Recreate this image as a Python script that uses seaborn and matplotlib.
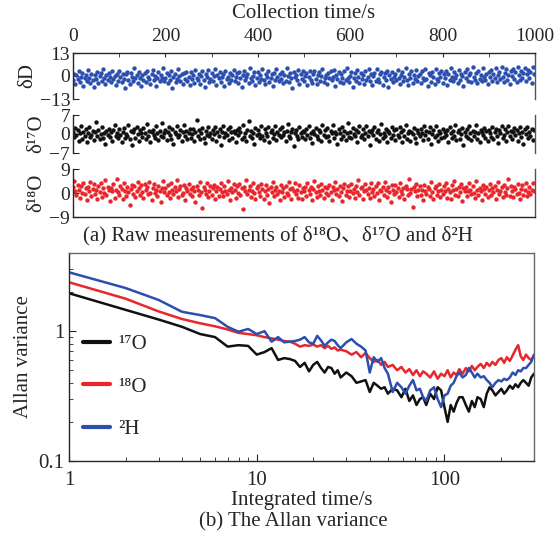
import numpy as np
import pandas as pd
import matplotlib
matplotlib.use('Agg')
import matplotlib.pyplot as plt
import seaborn as sns
from matplotlib.lines import Line2D
from matplotlib.ticker import FixedLocator, FixedFormatter, LogLocator, NullFormatter, MultipleLocator

# ---------------- (a) raw measurements, one point every 2.5 s ----------------
dD = [-2.1, 1.3, -4.5, 0.6, -1.8, 2.9, -3.2, -0.4, 1.8, -5.6, -1.1, 0.3, -2.7, 3.4, -0.9, -4.1, 1.1, -2.3, -6.2, 0.8,
      -1.5, 2.4, -3.8, -0.2, 1.6, -2.9, 4.1, -1.2, -4.8, 0.5, -2.4, 1.9, -0.7, -3.5, 2.7, -1.9, 0.2, -5.1, 1.4, -2.6,
      3.1, -0.6, -3.3, 1.0, -1.7, -6.8, 0.9, 2.2, -2.0, -4.3, 1.7, -0.8, -2.9, 4.6, -1.4, 0.4, -3.9, 2.5, -1.0, -5.4,
      0.7, -2.2, 1.5, -3.6, 2.8, -0.3, -1.6, -4.7, 1.2, 3.5, -2.5, 0.1, -5.9, -1.3, 2.0, -3.1, 0.6, -0.9, 4.4, -2.8,
      -1.2, 1.8, -4.0, 0.3, -2.3, 2.6, -6.5, -0.5, 1.3, -3.4, -1.8, 3.8, -0.1, -2.6, 0.9, -4.6, 1.6, -1.5, 2.3, -3.0,
      -0.4, -5.2, 2.1, -1.9, 0.5, -3.7, 3.2, -1.1, -2.4, 1.4, -4.4, 0.0, 2.7, -2.0, -6.0, 1.0, -0.7, 3.6, -3.3, -1.6,
      1.9, -2.7, -0.2, 4.0, -4.9, 0.8, -1.4, 2.4, -3.5, -0.6, 1.1, -5.7, 2.9, -1.7, -0.3, -3.8, 1.5, -2.1, 0.4, 3.3,
      -2.9, -0.8, 1.7, -4.2, 2.2, -1.0, -6.3, 0.7, 3.0, -2.3, -0.5, 1.2, -3.9, 4.3, -1.3, -2.6, 0.2, 2.0, -5.0, -0.9,
      2.5, -3.2, 0.6, -1.8, 3.7, -2.2, -4.5, 1.3, -0.4, 2.8, -3.6, -1.1, 0.9, -5.5, 1.8, -2.5, 3.9, -0.7, -3.0, 1.0,
      -1.6, 2.3, -4.1, 0.4, -2.8, 4.7, -0.2, -3.4, 1.6, -1.3, -6.6, 2.1, -0.8, 0.3, -2.1, 3.4, -4.7, 1.1, -1.9, 2.6,
      -3.1, 0.1, 1.9, -5.3, -0.6, 2.8, -2.0, -3.7, 1.4, 3.1, -1.5, -4.3, 0.5, 2.0, -2.7, -0.2, 4.2, -3.2, -1.0, 0.8,
      -4.8, 1.7, -1.2, 2.9, -2.4, -0.5, 3.5, -5.8, 0.6, -1.7, 2.2, -3.3, 1.0, -0.9, -4.0, 2.6, -2.2, 4.5, -1.4, -3.5,
      0.2, 2.4, -6.1, -1.1, 1.5, -2.9, 3.3, -0.3, -3.9, 1.9, -1.6, 0.7, -4.6, 2.7, -2.3, -0.7, 3.8, -3.0, 1.2, -5.0,
      -0.1, 1.6, -2.6, 4.1, -1.8, -3.4, 0.9, 2.3, -4.9, -0.4, 1.8, -2.1, 3.0, -6.4, 0.3, -1.5, 2.5, -3.6, -0.8, 1.4,
      -2.5, 3.6, -1.0, -4.4, 0.8, 2.1, -3.1, -0.6, 4.8, -2.2, -5.3, 1.3, -1.2, 2.9, -3.8, 0.4, -1.9, 3.2, -2.8, 0.0,
      1.1, -4.2, 2.6, -0.9, -2.4, 3.7, -1.5, -5.6, 1.7, 0.5, -3.2, 2.3, -0.3, -4.5, 4.0, -1.7, -2.6, 1.5, -0.5, 3.1,
      -3.7, 0.9, -1.3, 2.7, -5.0, 1.2, -2.0, 4.4, -0.8, -3.1, 2.0, -1.4, 0.6, -4.2, 3.5, -2.4, 1.3, -0.2, -5.9, 2.4,
      -1.1, 3.8, -2.9, 0.3, 1.9, -3.5, 5.1, -0.7, -2.2, 1.6, -4.0, 2.8, -1.6, 0.7, -3.0, 4.3, -0.4, -2.5, 1.0, -4.6,
      2.2, -0.6, 3.4, -2.7, 1.4, -1.2, 4.6, -3.3, 0.8, 2.5, -1.9, 5.0, -0.3, -3.6, 1.8, 3.9, -2.1, 0.5, -4.3, 2.7,
      0.1, 4.2, -1.8, 2.0, -3.2, 5.3, 0.6, -2.4, 3.1, -0.9, 1.5, 4.7, -2.8, 0.9, 3.6, -1.3, 2.4, -3.7, 4.9, 1.2]

d17O = [0.8, -1.2, 2.1, -0.4, 1.5, -2.6, 0.3, 3.0, -1.7, 0.9, -0.6, 1.8, -3.1, 0.2, 2.4, -1.0, -0.2, 1.2, -2.2, 0.6,
        4.6, -0.8, 1.4, -1.9, 0.0, 2.7, -1.4, 0.5, -3.5, 1.1, -0.5, 2.0, -1.1, 0.7, -2.4, 1.6, 3.4, -0.9, 0.4, -1.6,
        1.9, -0.3, -2.8, 0.9, 2.3, -1.3, 0.1, -0.7, 3.2, -2.0, 1.0, -4.2, 0.6, 1.7, -1.5, 2.6, -0.1, -2.5, 1.3, 0.2,
        -1.0, 2.2, 0.4, -1.8, 3.6, -0.6, 1.1, -2.9, 0.8, 1.5, -0.4, -1.4, 2.8, 0.3, -2.1, 1.2, -0.9, 3.9, -1.2, 0.5,
        1.6, -2.3, 0.7, 2.5, -0.2, -1.7, 1.9, -3.8, 0.9, 0.1, 2.9, -1.1, -0.5, 1.4, -2.6, 0.6, 3.3, -0.8, 1.0, -1.9,
        0.2, 2.0, -1.5, -0.1, 1.7, -2.7, 0.8, 5.2, -0.6, 1.3, -2.0, 0.4, 2.3, -1.3, -3.3, 1.1, -0.3, 2.7, -0.9, 0.5,
        -1.7, 1.5, 0.0, 2.6, -2.4, 0.7, -0.7, 1.9, -4.0, 0.9, 3.1, -1.2, 0.3, -0.4, 1.8, -2.2, 2.4, 0.6, -1.6, 1.2,
        0.4, -2.9, 1.6, -0.5, 2.1, 0.8, -1.8, 3.5, -1.0, 0.2, -2.5, 1.4, 4.9, -0.7, 1.0, -1.4, 0.5, -3.6, 2.2, -0.2,
        1.3, 0.1, -1.3, 2.8, -0.8, -2.1, 1.7, 0.4, -0.9, 2.4, -3.0, 0.9, 1.5, -1.6, 0.0, 3.0, -2.3, 0.7, -0.4, 1.9,
        -1.1, 2.5, -0.3, 0.6, -2.6, 1.2, 3.7, -0.6, -1.5, 0.8, 2.0, -4.4, 0.3, 1.6, -0.8, -1.9, 2.7, 0.5, -1.2, 1.0,
        0.7, -2.0, 1.8, -0.2, 2.9, -1.4, 0.4, -3.2, 1.1, 0.0, 2.3, -0.9, -1.7, 1.5, 0.6, -2.7, 3.2, -0.5, 1.3, -1.0,
        2.1, -0.7, -2.4, 1.0, 0.3, 3.4, -1.3, 0.8, -0.1, -3.5, 1.9, 0.5, -1.8, 2.6, -0.6, 1.2, -2.2, 0.2, 4.1, -1.1,
        0.9, -1.6, 2.2, 0.1, -0.8, 1.4, -2.9, 0.6, 2.8, -1.2, -0.3, 1.7, -2.0, 0.4, 3.1, -0.9, 1.1, -3.9, 0.7, 1.6,
        -0.5, 2.4, -1.9, 0.8, 1.3, -2.5, 0.0, 3.6, -1.4, 0.5, -0.7, 2.0, -3.1, 1.0, 0.2, -1.5, 2.7, -0.4, 1.5, -2.1,
        1.8, -0.2, -1.0, 2.5, 0.6, -2.8, 1.4, -0.6, 3.3, -1.7, 0.3, 1.1, -2.4, 0.9, -0.1, 2.2, -1.3, -3.4, 1.6, 0.4,
        -0.9, 1.7, 0.2, -2.2, 2.9, -0.5, 1.0, -1.8, 0.7, 2.4, -3.7, 0.1, 1.5, -1.1, 3.0, -0.3, -2.6, 1.2, 0.5, -1.4,
        2.0, -1.2, 0.8, -0.4, 1.6, -3.0, 2.6, 0.3, -1.6, 1.1, -0.8, 3.5, -2.1, 0.6, 1.4, -1.9, 0.0, 2.3, -4.1, 0.9,
        -0.6, 1.9, -1.5, 2.8, 0.4, -2.3, 1.2, -0.9, 0.7, 3.2, -1.8, 0.2, -2.9, 1.6, 0.8, -0.5, 2.1, -1.3, 1.0, -2.5,
        1.4, 0.3, -1.1, 2.5, -2.0, 0.9, 1.8, -0.7, -3.3, 1.3, 0.5, 2.9, -1.4, -0.2, 1.7, -2.4, 0.6, 3.1, -0.8, 1.1,
        -1.7, 0.7, 2.2, -0.3, 1.5, -2.6, 0.4, 2.6, -1.0, 0.9, -3.5, 1.8, 0.1, 2.4, -1.5, 0.8, -0.6, 2.0, -2.2, 1.3]

d18O = [2.3, 4.5, 0.6, -0.8, 3.1, 1.2, -1.9, 2.7, 0.1, 3.9, -0.4, 1.8, -2.6, 2.2, 0.9, 4.1, -1.2, 1.5, 3.3, -0.3,
        1.0, -2.2, 2.8, 0.4, 3.6, -1.5, 1.9, 0.0, 4.8, -0.9, 2.4, 1.1, -3.0, 2.0, 0.7, 3.4, -1.7, 1.3, 5.2, 0.2,
        -0.6, 2.6, 1.4, -2.4, 3.8, 0.8, -1.0, 2.1, 0.3, -4.6, 1.6, 3.0, -0.2, 2.5, -1.4, 0.9, 4.3, 1.7, -0.7, 2.9,
        0.5, -1.8, 3.2, 1.0, 2.3, -0.5, 4.0, 0.1, -2.8, 1.9, 3.5, -0.1, 1.2, -1.3, 2.7, 0.6, -3.4, 2.0, 4.6, 0.4,
        1.7, -0.9, 2.9, 0.2, -2.0, 3.7, 1.1, -0.4, 2.2, 0.8, 5.0, -1.6, 1.4, 2.6, -0.8, 0.0, 3.1, -2.7, 1.8, 0.9,
        3.4, -0.3, 1.5, -1.1, 2.4, 0.7, -3.2, 2.8, 1.3, -0.6, 4.2, 0.5, -5.8, 2.1, 1.0, -0.2, 3.6, -1.4, 0.8, 2.5,
        -0.7, 1.9, 3.0, -2.3, 0.6, 2.2, -1.1, 1.6, 3.9, 0.3, -1.2, 2.7, 0.9, -0.5, 4.4, 1.2, -2.5, 2.0, 0.4, 3.2,
        1.1, -1.7, 2.5, 0.0, 3.3, -0.8, 1.7, -5.9, 2.3, 0.6, 4.9, -0.4, 1.0, 2.6, -1.5, 0.8, 3.7, -0.1, -2.1, 1.9,
        2.8, 0.2, -1.0, 3.5, 1.4, -2.2, 0.7, 2.9, -0.6, 1.6, -3.7, 2.2, 0.5, 4.0, -1.3, 1.2, 2.4, -0.2, 0.9, -2.6,
        3.1, 0.4, 1.8, -1.6, 2.6, 0.1, -0.9, 4.3, 1.5, -2.4, 2.0, 0.8, 3.6, -0.5, 1.3, -1.8, 2.9, 0.3, -2.4, 1.7,
        0.6, 2.4, -1.1, 3.8, 1.0, -0.3, 2.1, -2.7, 1.5, 4.6, 0.2, -1.4, 2.8, 0.7, -0.7, 3.3, 1.2, -2.0, 2.3, 0.0,
        1.9, -0.8, 3.0, 0.5, -2.5, 2.2, 1.1, 4.1, -0.4, 1.6, -1.2, 2.7, 0.3, -3.1, 1.8, 3.5, -0.6, 0.9, 2.5, -1.5,
        0.8, 3.2, -0.1, 1.4, -1.9, 2.6, 0.4, 4.7, -0.9, 1.7, 2.3, -2.3, 0.6, 3.4, 1.0, -0.5, 2.0, -1.7, 3.9, 0.2,
        1.5, -1.0, 2.8, 0.0, 3.6, -2.6, 1.2, 0.7, 2.4, -0.7, 4.2, 1.3, -1.6, 2.1, 0.4, -3.3, 2.9, 1.1, -0.3, 3.0,
        0.3, 2.0, -1.4, 3.7, 0.9, -0.4, 1.8, -2.1, 2.6, 1.4, -0.9, 5.1, 0.1, 1.6, -5.4, 2.3, 0.6, 3.5, -1.1, 1.0,
        2.7, -0.6, 1.3, -2.8, 3.1, 0.8, -0.2, 2.2, 1.5, -1.3, 4.0, 0.4, -2.2, 1.9, 2.8, -0.8, 0.7, 3.3, -1.5, 1.2,
        -0.4, 2.5, 0.9, 3.9, -1.7, 1.6, 0.2, -2.4, 2.9, 1.0, 4.4, -0.7, 1.4, -1.0, 2.1, 0.5, 3.2, -2.9, 1.8, 0.6,
        2.3, -1.2, 0.8, 3.6, 1.3, -0.5, 2.6, 0.0, -1.9, 4.5, 1.1, -0.8, 2.0, 0.7, -2.6, 3.0, 1.5, -0.2, 2.4, -1.4,
        1.0, 3.4, -0.9, 1.7, 0.3, 2.8, -2.1, 1.2, 4.2, -0.4, 0.9, 2.2, -1.6, 3.1, 0.5, -0.6, 1.9, 5.3, -1.0, 2.6,
        0.7, -1.5, 2.4, 1.4, -0.3, 3.3, 0.1, -2.3, 1.6, 2.9, -0.7, 1.1, 3.8, -1.2, 0.4, 2.1, -0.5, 1.3, 3.6, 0.8]

# ---------------- (b) Allan variance ----------------
tau = [1, 2, 3, 4, 5, 6, 7, 8, 9, 10, 11, 12, 13, 14, 15, 16, 17, 18, 19,
       20, 21, 22, 23, 24, 25, 26, 27, 28,
       30, 32, 34, 36, 38, 40, 42, 44, 46, 48, 50,
       53, 56, 59, 62, 65, 68, 71, 74, 77, 80,
       84, 88, 92, 96, 100, 104, 108, 112, 116, 120,
       125, 130, 135, 140, 145, 150,
       156, 162, 168, 174, 180,
       187, 194, 201, 208, 215,
       223, 231, 239, 247, 255, 263,
       272, 281, 290, 300]

allan_17O = [1.96, 1.46, 1.23, 1.08, 0.95, 0.90, 0.76, 0.78, 0.77, 0.66, 0.69, 0.74, 0.60, 0.62, 0.61, 0.59, 0.53, 0.57, 0.49,
             0.55, 0.58, 0.52, 0.48, 0.53, 0.52, 0.47, 0.50, 0.44,
             0.48, 0.45, 0.40, 0.41, 0.42, 0.34, 0.40, 0.38, 0.36, 0.37, 0.33,
             0.36, 0.35, 0.31, 0.36, 0.29, 0.32, 0.27, 0.30, 0.31, 0.27,
             0.33, 0.30, 0.37, 0.35, 0.26, 0.20, 0.27, 0.24, 0.28, 0.31,
             0.31, 0.27, 0.24, 0.29, 0.26, 0.31,
             0.30, 0.26, 0.33, 0.37, 0.35,
             0.32, 0.34, 0.36, 0.33, 0.35,
             0.38, 0.36, 0.39, 0.37, 0.40, 0.42,
             0.40, 0.38, 0.44, 0.47]

allan_18O = [2.38, 1.78, 1.42, 1.24, 1.15, 1.09, 1.03, 0.97, 0.95, 0.93, 0.90, 0.88, 0.86, 0.84, 0.83, 0.80, 0.76, 0.78, 0.77,
             0.79, 0.76, 0.78, 0.74, 0.77, 0.73, 0.75, 0.71, 0.72,
             0.70, 0.66, 0.69, 0.63, 0.68, 0.62, 0.58, 0.60, 0.55, 0.58, 0.53,
             0.55, 0.50, 0.53, 0.48, 0.51, 0.46, 0.50, 0.45, 0.49, 0.47,
             0.44, 0.49, 0.43, 0.47, 0.45, 0.50, 0.44, 0.48, 0.46, 0.51,
             0.47, 0.52, 0.49, 0.54, 0.50, 0.53,
             0.56, 0.52, 0.57, 0.54, 0.58,
             0.55, 0.60, 0.62, 0.57, 0.63,
             0.59, 0.65, 0.72, 0.78, 0.64, 0.60,
             0.66, 0.62, 0.60, 0.65]

allan_2H = [2.84, 2.15, 1.74, 1.41, 1.33, 1.26, 1.08, 0.99, 1.04, 0.95, 1.00, 0.83, 0.90, 0.82, 0.83, 0.84, 0.86, 0.90, 0.82,
            0.80, 0.92, 0.85, 0.77, 0.82, 0.86, 0.84, 0.78, 0.74,
            0.82, 0.87, 0.80, 0.76, 0.71, 0.48, 0.63, 0.58, 0.62, 0.52, 0.47,
            0.34, 0.40, 0.37, 0.33, 0.38, 0.42, 0.35, 0.36, 0.31, 0.29,
            0.35, 0.37, 0.30, 0.26, 0.32, 0.33, 0.38, 0.40, 0.45, 0.48,
            0.44, 0.46, 0.52, 0.48, 0.44, 0.47,
            0.44, 0.45, 0.42, 0.40, 0.37,
            0.40, 0.42, 0.41, 0.43, 0.42,
            0.44, 0.48, 0.46, 0.50, 0.49, 0.52,
            0.52, 0.55, 0.58, 0.66]

iso_labels = ['¹⁷O', '¹⁸O', '²H']
BLUE, RED, BLACK = '#2b4fae', '#e8262b', '#111111'

raw = pd.DataFrame({'t': np.arange(len(dD)) * 2.5, 'dD': dD, 'd17O': d17O, 'd18O': d18O})
allan = pd.concat([
    pd.DataFrame({'tau': tau, 'sigma': allan_17O, 'iso': iso_labels[0]}),
    pd.DataFrame({'tau': tau, 'sigma': allan_18O, 'iso': iso_labels[1]}),
    pd.DataFrame({'tau': tau, 'sigma': allan_2H, 'iso': iso_labels[2]}),
])

sns.set_style('ticks')
plt.rcParams['font.family'] = ['Liberation Serif', 'DejaVu Serif', 'Noto Sans CJK SC']
plt.rcParams['font.size'] = 14
plt.rcParams['xtick.direction'] = 'in'
plt.rcParams['ytick.direction'] = 'in'
plt.rcParams['axes.linewidth'] = 1.0

fig = plt.figure(figsize=(5.56, 5.41), dpi=100)
W_, H_ = 556, 541

def box(left, top, right, bottom):
    return [left / W_, 1 - bottom / H_, (right - left) / W_, (bottom - top) / H_]

ax1 = fig.add_axes(box(73, 53, 535, 99))
ax2 = fig.add_axes(box(73, 115, 535, 153))
ax3 = fig.add_axes(box(73, 169, 535, 217))

panels = [(ax1, 'dD', BLUE, 13, 'δD'),
          (ax2, 'd17O', BLACK, 7, 'δ¹⁷O'),
          (ax3, 'd18O', RED, 9, 'δ¹⁸O')]
for ax, col, c, lim, lab in panels:
    sns.scatterplot(data=raw, x='t', y=col, ax=ax, color=c, s=10, linewidth=0, legend=False)
    ax.set_xlim(0, 1000)
    ax.set_ylim(-lim, lim)
    ax.set_yticks([-lim, 0, lim])
    ax.set_ylabel(lab, fontsize=15, labelpad=2)
    ax.set_xlabel('')
    ax.tick_params(axis='y', labelsize=14, length=4, pad=2)
    for s in ['top', 'bottom']:
        ax.spines[s].set_visible(False)
    ax.spines['right'].set_color('#555555')

ax1.spines['top'].set_visible(True)
ax1.xaxis.set_ticks_position('top')
ax1.xaxis.set_label_position('top')
ax1.set_xticks(range(0, 1001, 200))
ax1.xaxis.set_minor_locator(MultipleLocator(100))
ax1.tick_params(axis='x', which='both', labelsize=14, length=3, pad=6)
ax1.set_xlabel('Collection time/s', fontsize=15, labelpad=7)
ax2.set_xticks([])
ax3.set_xticks([])
ax3.spines['bottom'].set_visible(True)

fig.text(0.5, 1 - 236 / H_, '(a) Raw measurements of δ¹⁸O、δ¹⁷O and δ²H',
         ha='center', va='center', fontsize=15)

# Allan variance panel
ax4 = fig.add_axes(box(69, 253, 534, 461))
pal = {iso_labels[0]: BLACK, iso_labels[1]: RED, iso_labels[2]: BLUE}
sns.lineplot(data=allan, x='tau', y='sigma', hue='iso', palette=pal, ax=ax4,
             estimator=None, sort=False, linewidth=1.8, legend=False)
ax4.set_xscale('log')
ax4.set_yscale('log')
ax4.set_xlim(1, 300)
ax4.set_ylim(0.1, 4)
ax4.xaxis.set_major_locator(FixedLocator([1, 10, 100]))
ax4.xaxis.set_major_formatter(FixedFormatter(['1', '10', '100']))
ax4.xaxis.set_minor_locator(LogLocator(base=10, subs=np.arange(2, 10)))
ax4.xaxis.set_minor_formatter(NullFormatter())
ax4.yaxis.set_major_locator(FixedLocator([0.1, 1]))
ax4.yaxis.set_major_formatter(FixedFormatter(['0.1', '1']))
ax4.yaxis.set_minor_locator(LogLocator(base=10, subs=np.arange(2, 10)))
ax4.yaxis.set_minor_formatter(NullFormatter())
ax4.tick_params(which='major', labelsize=15, length=5)
ax4.tick_params(axis='x', which='major', pad=7)
ax4.tick_params(which='minor', length=3)
ax4.set_xlabel('Integrated time/s', fontsize=15, labelpad=1)
ax4.set_ylabel('Allan variance', fontsize=15, labelpad=4)
ax4.spines['top'].set_color('#666666')
ax4.spines['right'].set_color('#666666')

handles = [Line2D([], [], color=pal[k], lw=3) for k in iso_labels]
ax4.legend(handles, iso_labels, loc='lower left', bbox_to_anchor=(-0.01, 0.015),
           frameon=False, fontsize=15, handlelength=1.3, labelspacing=1.1, handletextpad=0.4)

fig.text(293 / W_, 1 - 522 / H_, '(b) The Allan variance', ha='center', va='center', fontsize=15)

fig.savefig('out.png', dpi=100)
